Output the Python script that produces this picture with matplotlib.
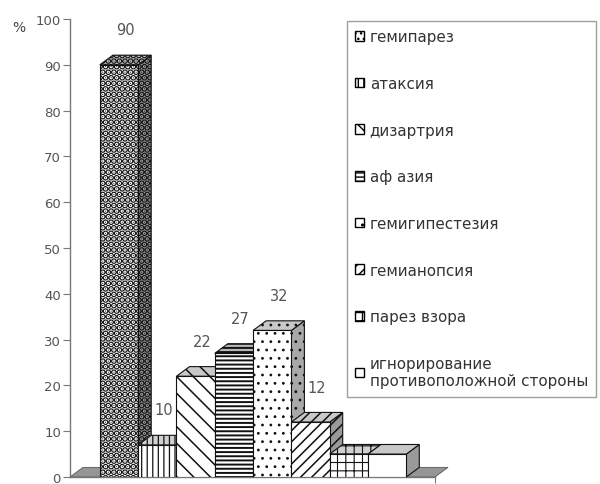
import matplotlib
matplotlib.use("Agg")
import matplotlib.pyplot as plt
from matplotlib.patches import Polygon, Patch

# data
categories = ["гемипарез", "атаксия", "дизартрия", "аф азия", "гемигипестезия",
              "гемианопсия", "парез взора", "игнорирование\nпротивоположной стороны"]
values = [90, 7, 22, 27, 32, 12, 5, 5]
value_labels = ["90", "10", "22", "27", "32", "12", "", ""]
y_ticks = [0, 10, 20, 30, 40, 50, 60, 70, 80, 90, 100]

# look of each bar: hatch, side colour, top colour
hatches = ["...", "|||", "\\\\", "----", "..", "///", "++", ""]
side_colors = ["#9a9a9a", "#a8a8a8", "#a8a8a8", "#8a8a8a", "#a8a8a8", "#9a9a9a", "#a8a8a8", "#9a9a9a"]
top_colors = ["#c8c8c8", "#d0d0d0", "#c8c8c8", "#b8b8b8", "#c8c8c8", "#c8c8c8", "#d0d0d0", "#c8c8c8"]
hatch_widths = [3.2, 0.9, 1.1, 1.4, 0.8, 1.1, 0.8, 0.8]

DX, DY = 0.34, 2.1   # 3d depth in data units

fig = plt.figure(figsize=(6, 4.85), dpi=100)
ax = fig.add_axes([70 / 600, 7 / 485, 365 / 600, 458 / 485])
xl, xr = -0.78, 8.75
ax.set_xlim(xl, xr)
ax.set_ylim(0, 100)

# grey floor
floor = Polygon([(xl, 0), (xr, 0), (xr + DX, DY), (xl + DX, DY)],
                closed=True, facecolor="#959595", edgecolor="#555", lw=0.6,
                clip_on=False, zorder=1)
ax.add_patch(floor)

xs = list(range(len(values)))
z = 2
for i, v in enumerate(values):
    x0, x1 = xs[i], xs[i] + 1
    side = Polygon([(x1, 0), (x1 + DX, DY), (x1 + DX, v + DY), (x1, v)],
                   closed=True, facecolor=side_colors[i], edgecolor="#111",
                   hatch=hatches[i], lw=0.8, clip_on=False, zorder=z)
    top = Polygon([(x0, v), (x1, v), (x1 + DX, v + DY), (x0 + DX, v + DY)],
                  closed=True, facecolor=top_colors[i], edgecolor="#111",
                  hatch=hatches[i], lw=0.8, clip_on=False, zorder=z)
    ax.add_patch(side)
    ax.add_patch(top)
    bar = ax.bar(x0, v, width=1, align="edge", facecolor="white", edgecolor="#111",
                 hatch=hatches[i], lw=0.8, zorder=z + 0.5)[0]
    for p in (side, top, bar):
        if hasattr(p, "set_hatch_linewidth"):
            p.set_hatch_linewidth(hatch_widths[i])
    if value_labels[i]:
        ax.text(x0 + 0.5 + DX / 2, v + 6, value_labels[i], ha="center", va="bottom",
                fontsize=10.5, color="#555", zorder=1.5)
    z += 1

ax.spines["top"].set_visible(False)
ax.spines["right"].set_visible(False)
for s in ("left", "bottom"):
    ax.spines[s].set_color("#777")
    ax.spines[s].set_linewidth(1)
ax.set_yticks(y_ticks)
ax.tick_params(axis="y", direction="out", length=5, color="#777", labelsize=9.5,
               labelcolor="#555", pad=1.5)
ax.set_xticks([xr])
ax.set_xticklabels([""])
ax.tick_params(axis="x", direction="out", length=4, color="#777")

fig.text(19 / 600, 1 - 28 / 485, "%", ha="center", va="center", fontsize=10, color="#444")

handles = [Patch(facecolor="white", edgecolor="black", hatch=h, lw=1.0) for h in hatches]
leg = fig.legend(handles, categories, loc="upper left",
                 bbox_to_anchor=(347 / 600, 1 - 22 / 485), borderaxespad=0,
                 frameon=True, fancybox=False, edgecolor="#888", fontsize=10.9,
                 labelspacing=2.09, handlelength=0.6, handleheight=0.6,
                 handletextpad=0.35, borderpad=0.55, labelcolor="#333")
leg.get_frame().set_linewidth(1)

fig.savefig("out.png", dpi=100)
